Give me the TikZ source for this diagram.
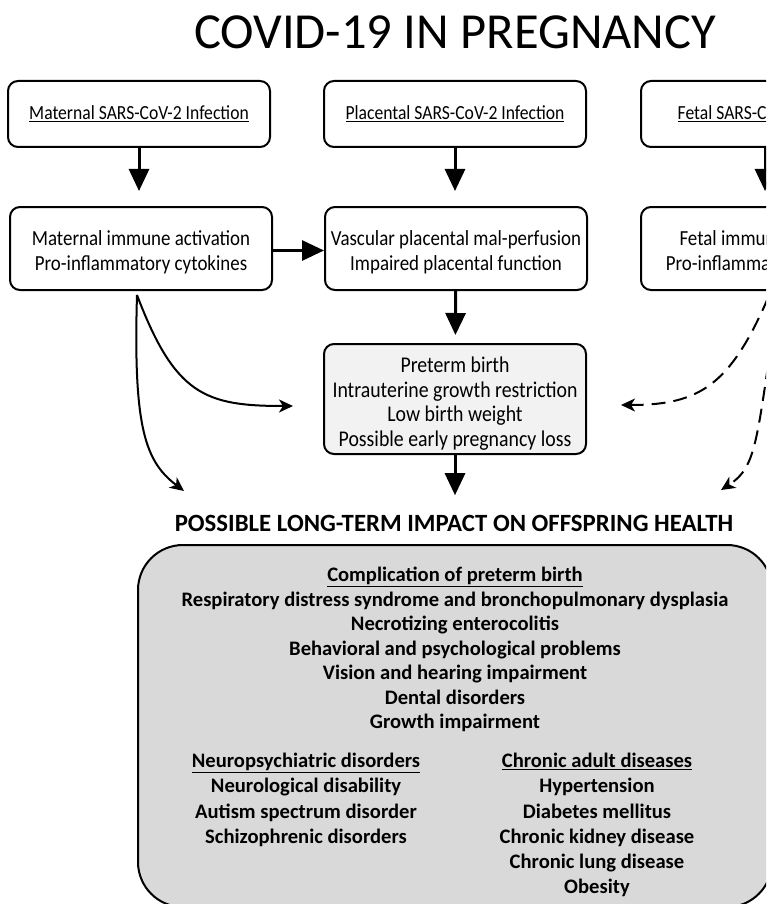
\documentclass[tikz,border=0pt]{standalone}
\usepackage{fontspec}
\setmainfont{Carlito}
\newfontfamily\boxfont[FakeStretch=0.88]{Carlito}
\usetikzlibrary{arrows.meta}

\definecolor{outgray}{HTML}{F2F2F2}
\definecolor{impactgray}{HTML}{D9D9D9}

\tikzset{
    infobox/.style={draw, line width=2pt, rounded corners=10pt, minimum width=262pt,
        inner xsep=2pt, align=center, font=\boxfont\fontsize{21.5}{25}\selectfont},
    listtext/.style={align=center, inner sep=0pt, font=\bfseries\fontsize{20.6}{24.5}\selectfont},
    bigarrow/.style={line width=3pt, -{Triangle[width=20pt,length=22pt]}},
    bendarrow/.style={line width=2pt, -{Stealth[width=13pt,length=14pt,inset=4pt]}},
    dasharrow/.style={bendarrow, dash pattern=on 14pt off 8pt},
}

\begin{document}
\begin{tikzpicture}[x=1pt, y=-1pt]
    \useasboundingbox (0,0) rectangle (766,904);
    \clip (0,0) rectangle (766,904);

    \node[anchor=base, font=\fontsize{50.5}{60}\selectfont] (title) at (455,49) {COVID-19 IN PREGNANCY};

    % first row: infection sites
    \node[infobox, minimum height=66pt, font=\boxfont\fontsize{20}{24}\selectfont] (matinf) at (139,114) {\underline{Maternal SARS-CoV-2 Infection}};
    \node[infobox, minimum height=66pt, font=\boxfont\fontsize{20}{24}\selectfont] (plainf) at (455,114) {\underline{Placental SARS-CoV-2 Infection}};
    \node[infobox, minimum height=66pt, font=\boxfont\fontsize{20}{24}\selectfont] (fetinf) at (772,114) {\underline{Fetal SARS-CoV-2 Infection}};

    % second row: responses
    \node[infobox, minimum height=83pt] (matimm) at (141,248.5) {\rule{0pt}{22pt}Maternal immune activation\\Pro-inflammatory cytokines};
    \node[infobox, minimum height=83pt] (plafun) at (456,248.5) {\rule{0pt}{22pt}Vascular placental mal-perfusion\\Impaired placental function};
    \node[infobox, minimum height=83pt] (fetimm) at (772,248.5) {\rule{0pt}{22pt}Fetal immune activation\\Pro-inflammatory cytokines};

    % pregnancy outcome
    \node[infobox, fill=outgray, minimum height=110pt, font=\boxfont\fontsize{22.5}{24.5}\selectfont] (outcome) at (455,399)
        {\rule{0pt}{25pt}Preterm birth\\Intrauterine growth restriction\\Low birth weight\\Possible early pregnancy loss};

    \node[anchor=base, font=\bfseries\fontsize{24.8}{28}\selectfont] (impact) at (454,531)
        {POSSIBLE LONG-TERM IMPACT ON OFFSPRING HEALTH};

    % long-term impact box
    \node[draw, line width=2pt, fill=impactgray, rounded corners=45pt,
        minimum width=634pt, minimum height=362pt] (healthbox) at (455,726) {};
    \node[listtext, anchor=north] (preterm) at (455,567)
        {\underline{Complication of preterm birth}\\
         Respiratory distress syndrome and bronchopulmonary dysplasia\\
         Necrotizing enterocolitis\\
         Behavioral and psychological problems\\
         Vision and hearing impairment\\
         Dental disorders\\
         Growth impairment};
    \node[listtext, anchor=north, font=\bfseries\fontsize{20.6}{25.2}\selectfont] (neuro) at (306,753)
        {\underline{Neuropsychiatric disorders}\\
         Neurological disability\\
         Autism spectrum disorder\\
         Schizophrenic disorders};
    \node[listtext, anchor=north, font=\bfseries\fontsize{20.6}{25.2}\selectfont] (chronic) at (597,753)
        {\underline{Chronic adult diseases}\\
         Hypertension\\
         Diabetes mellitus\\
         Chronic kidney disease\\
         Chronic lung disease\\
         Obesity};

    % straight arrows
    \draw[bigarrow, shorten >=15pt] (matinf.south) -- (matinf.south |- matimm.north);
    \draw[bigarrow, shorten >=15pt] (plainf.south) -- (plainf.south |- plafun.north);
    \draw[bigarrow, shorten >=15pt] ([xshift=-7pt]fetinf.south) -- ([xshift=-7pt]fetinf.south |- fetimm.north);
    \draw[bigarrow] ([yshift=-2pt]matimm.east) -- ([yshift=-2pt]plafun.west |- matimm.east);
    \draw[bigarrow, shorten >=8pt] (plafun) -- (outcome);
    \draw[bigarrow, shorten >=16pt] (outcome.south) -- (outcome.south |- impact.north);

    % curved arrows
    \coordinate (matstart) at (137,295);
    \coordinate (outleft) at (293,406);
    \coordinate (impleft) at (184,491);
    \coordinate (fetstart) at (768,298);
    \coordinate (fetlow) at (778,300);
    \coordinate (outright) at (621,405);
    \coordinate (impright) at (721,490);

    \draw[bendarrow] (matstart) .. controls (175,395) and (205,406) .. (outleft);
    \draw[bendarrow] (matstart) .. controls (133,430) and (146,462) .. (impleft);
    \draw[dasharrow] (fetstart) .. controls (730,385) and (700,405) .. (outright);
    \draw[dasharrow] (fetlow) .. controls (756,440) and (758,466) .. (impright);
\end{tikzpicture}
\end{document}
